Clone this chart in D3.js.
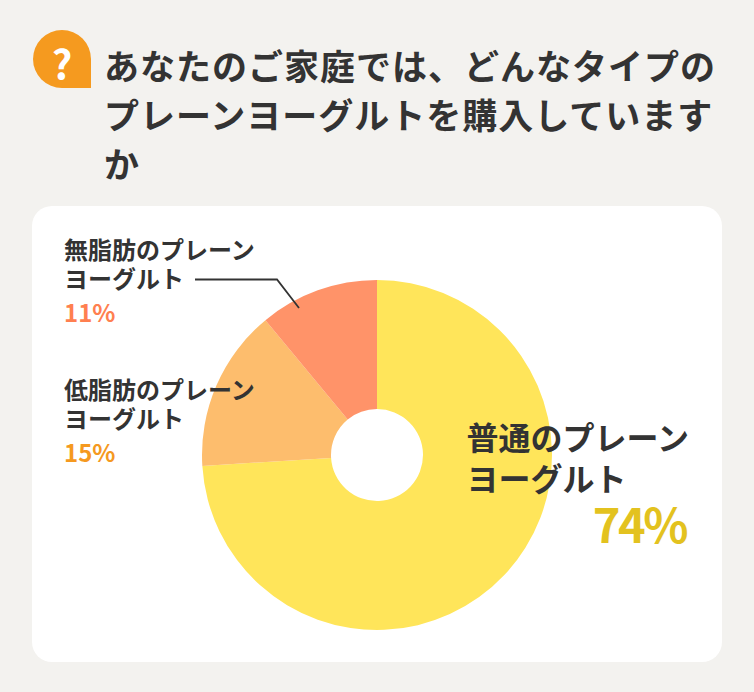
<!DOCTYPE html>
<html lang="ja">
<head>
<meta charset="utf-8">
<script src="https://cdn.jsdelivr.net/npm/d3@7"></script>
<style>
html, body { margin: 0; padding: 0; background: #f3f2ef; }
svg { display: block; }
text { font-family: "Noto Sans CJK JP", "Noto Sans", sans-serif; font-weight: 700; }
</style>
</head>
<body>
<div id="chart"></div>
<script>
const categories = ["普通のプレーン|ヨーグルト", "低脂肪のプレーン|ヨーグルト", "無脂肪のプレーン|ヨーグルト"];
const shares = [74, 15, 11];
const sliceColors = ["#ffe55a", "#fdbd6d", "#ff9369"];
const shareColors = ["#e3c21f", "#f5991f", "#ff7f50"];
const titleLines = ["あなたのご家庭では、どんなタイプの", "プレーンヨーグルトを購入していますか"];

const width = 754, height = 692;
const svg = d3.select("#chart").append("svg")
    .attr("width", width)
    .attr("height", height);

svg.append("rect")
    .attr("width", width)
    .attr("height", height)
    .attr("fill", "#f3f2ef");

// question badge
svg.append("path")
    .attr("d", "M91 88 H62 A29 29 0 1 1 91 59 Z")
    .attr("fill", "#f59a1f");
svg.append("text")
    .attr("x", 62)
    .attr("y", 79)
    .attr("text-anchor", "middle")
    .attr("font-size", 40)
    .attr("font-weight", 900)
    .attr("fill", "#fff")
    .text("?");

// title wraps after 17 characters on the second line
const titleRows = [titleLines[0], titleLines[1].slice(0, 17), titleLines[1].slice(17)];
svg.append("text")
    .attr("font-size", 35)
    .attr("letter-spacing", 1)
    .attr("fill", "#333")
    .selectAll("tspan")
    .data(titleRows)
    .enter()
    .append("tspan")
    .attr("x", 104)
    .attr("y", (d, i) => 80 + i * 49)
    .text(d => d);

// white card
svg.append("rect")
    .attr("x", 32)
    .attr("y", 206)
    .attr("width", 690)
    .attr("height", 456)
    .attr("rx", 20)
    .attr("fill", "#fff");

// donut
const pie = d3.pie().sort(null)(shares);
const arc = d3.arc().innerRadius(46).outerRadius(175);
svg.append("g")
    .attr("transform", "translate(377,455)")
    .selectAll("path")
    .data(pie)
    .enter()
    .append("path")
    .attr("d", arc)
    .attr("fill", (d, i) => sliceColors[i]);

// leader line
svg.append("path")
    .attr("d", d3.line()([[195, 279.5], [277, 279.5], [299, 308]]))
    .attr("fill", "none")
    .attr("stroke", "#333")
    .attr("stroke-width", 1.8);

// labels
const labelPos = [
    {x: 466.5, y: 450, size: 32, gap: 41, pctX: 686, pctY: 543, pctSize: 47, spacing: -2.5, anchor: "end"},
    {x: 64, y: 399, size: 24, gap: 29, pctX: 64, pctY: 462, pctSize: 24, spacing: 0, anchor: "start"},
    {x: 64, y: 259, size: 24, gap: 29, pctX: 64, pctY: 322, pctSize: 24, spacing: 0, anchor: "start"}
];

categories.forEach((cat, i) => {
    const p = labelPos[i];
    svg.append("text")
        .attr("font-size", p.size)
        .attr("fill", "#333")
        .selectAll("tspan")
        .data(cat.split("|"))
        .enter()
        .append("tspan")
        .attr("x", p.x)
        .attr("y", (d, j) => p.y + j * p.gap)
        .text(d => d);
    svg.append("text")
        .attr("x", p.pctX)
        .attr("y", p.pctY)
        .attr("text-anchor", p.anchor)
        .attr("font-size", p.pctSize)
        .attr("letter-spacing", p.spacing)
        .attr("fill", shareColors[i])
        .text(shares[i] + "%");
});
</script>
</body>
</html>
